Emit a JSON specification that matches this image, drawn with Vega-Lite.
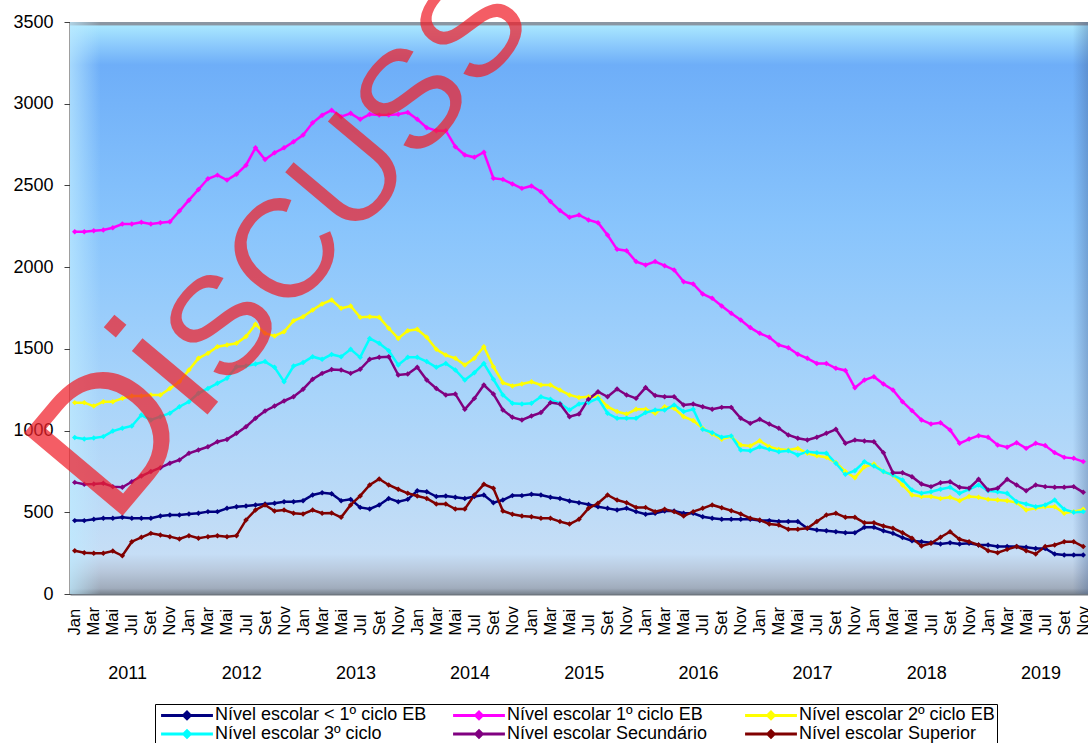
{
"$schema": "https://vega.github.io/schema/vega-lite/v6.json",
"width": 1018, "height": 572,
"autosize": {"type": "none"},
"padding": {"left": 70, "top": 22, "right": 0, "bottom": 149},
"background": "white",
"config": {"view": {"stroke": null}, "font": "Liberation Sans"},
"datasets": {
"niveis": [
{"s":"a","nivel":"Nível escolar < 1º ciclo EB"},
{"s":"b","nivel":"Nível escolar 1º ciclo EB"},
{"s":"c","nivel":"Nível escolar 2º ciclo EB"},
{"s":"d","nivel":"Nível escolar 3º ciclo"},
{"s":"e","nivel":"Nível escolar Secundário"},
{"s":"f","nivel":"Nível escolar Superior"}
],
"dados": [
{"m":"2011-01","s":"a","v":449},{"m":"2011-02","s":"a","v":449},{"m":"2011-03","s":"a","v":457},{"m":"2011-04","s":"a","v":463},{"m":"2011-05","s":"a","v":463},{"m":"2011-06","s":"a","v":469},{"m":"2011-07","s":"a","v":463},{"m":"2011-08","s":"a","v":463},{"m":"2011-09","s":"a","v":463},{"m":"2011-10","s":"a","v":477},{"m":"2011-11","s":"a","v":483},{"m":"2011-12","s":"a","v":483},
{"m":"2012-01","s":"a","v":490},{"m":"2012-02","s":"a","v":494},{"m":"2012-03","s":"a","v":504},{"m":"2012-04","s":"a","v":504},{"m":"2012-05","s":"a","v":524},{"m":"2012-06","s":"a","v":534},{"m":"2012-07","s":"a","v":538},{"m":"2012-08","s":"a","v":545},{"m":"2012-09","s":"a","v":551},{"m":"2012-10","s":"a","v":555},{"m":"2012-11","s":"a","v":565},{"m":"2012-12","s":"a","v":565},
{"m":"2013-01","s":"a","v":571},{"m":"2013-02","s":"a","v":606},{"m":"2013-03","s":"a","v":620},{"m":"2013-04","s":"a","v":614},{"m":"2013-05","s":"a","v":571},{"m":"2013-06","s":"a","v":579},{"m":"2013-07","s":"a","v":530},{"m":"2013-08","s":"a","v":520},{"m":"2013-09","s":"a","v":545},{"m":"2013-10","s":"a","v":585},{"m":"2013-11","s":"a","v":565},{"m":"2013-12","s":"a","v":579},
{"m":"2014-01","s":"a","v":632},{"m":"2014-02","s":"a","v":626},{"m":"2014-03","s":"a","v":596},{"m":"2014-04","s":"a","v":600},{"m":"2014-05","s":"a","v":592},{"m":"2014-06","s":"a","v":585},{"m":"2014-07","s":"a","v":596},{"m":"2014-08","s":"a","v":606},{"m":"2014-09","s":"a","v":559},{"m":"2014-10","s":"a","v":575},{"m":"2014-11","s":"a","v":602},{"m":"2014-12","s":"a","v":602},
{"m":"2015-01","s":"a","v":610},{"m":"2015-02","s":"a","v":606},{"m":"2015-03","s":"a","v":592},{"m":"2015-04","s":"a","v":585},{"m":"2015-05","s":"a","v":569},{"m":"2015-06","s":"a","v":559},{"m":"2015-07","s":"a","v":548},{"m":"2015-08","s":"a","v":534},{"m":"2015-09","s":"a","v":524},{"m":"2015-10","s":"a","v":514},{"m":"2015-11","s":"a","v":524},{"m":"2015-12","s":"a","v":504},
{"m":"2016-01","s":"a","v":488},{"m":"2016-02","s":"a","v":494},{"m":"2016-03","s":"a","v":508},{"m":"2016-04","s":"a","v":508},{"m":"2016-05","s":"a","v":494},{"m":"2016-06","s":"a","v":494},{"m":"2016-07","s":"a","v":473},{"m":"2016-08","s":"a","v":463},{"m":"2016-09","s":"a","v":457},{"m":"2016-10","s":"a","v":457},{"m":"2016-11","s":"a","v":457},{"m":"2016-12","s":"a","v":457},
{"m":"2017-01","s":"a","v":449},{"m":"2017-02","s":"a","v":449},{"m":"2017-03","s":"a","v":443},{"m":"2017-04","s":"a","v":443},{"m":"2017-05","s":"a","v":443},{"m":"2017-06","s":"a","v":402},{"m":"2017-07","s":"a","v":392},{"m":"2017-08","s":"a","v":387},{"m":"2017-09","s":"a","v":381},{"m":"2017-10","s":"a","v":375},{"m":"2017-11","s":"a","v":375},{"m":"2017-12","s":"a","v":408},
{"m":"2018-01","s":"a","v":408},{"m":"2018-02","s":"a","v":387},{"m":"2018-03","s":"a","v":371},{"m":"2018-04","s":"a","v":345},{"m":"2018-05","s":"a","v":326},{"m":"2018-06","s":"a","v":320},{"m":"2018-07","s":"a","v":314},{"m":"2018-08","s":"a","v":306},{"m":"2018-09","s":"a","v":314},{"m":"2018-10","s":"a","v":306},{"m":"2018-11","s":"a","v":310},{"m":"2018-12","s":"a","v":300},
{"m":"2019-01","s":"a","v":300},{"m":"2019-02","s":"a","v":290},{"m":"2019-03","s":"a","v":290},{"m":"2019-04","s":"a","v":290},{"m":"2019-05","s":"a","v":286},{"m":"2019-06","s":"a","v":279},{"m":"2019-07","s":"a","v":279},{"m":"2019-08","s":"a","v":245},{"m":"2019-09","s":"a","v":239},{"m":"2019-10","s":"a","v":239},{"m":"2019-11","s":"a","v":239},
{"m":"2011-01","s":"b","v":2217},{"m":"2011-02","s":"b","v":2217},{"m":"2011-03","s":"b","v":2223},{"m":"2011-04","s":"b","v":2227},{"m":"2011-05","s":"b","v":2241},{"m":"2011-06","s":"b","v":2264},{"m":"2011-07","s":"b","v":2264},{"m":"2011-08","s":"b","v":2274},{"m":"2011-09","s":"b","v":2264},{"m":"2011-10","s":"b","v":2272},{"m":"2011-11","s":"b","v":2278},{"m":"2011-12","s":"b","v":2343},
{"m":"2012-01","s":"b","v":2410},{"m":"2012-02","s":"b","v":2475},{"m":"2012-03","s":"b","v":2541},{"m":"2012-04","s":"b","v":2563},{"m":"2012-05","s":"b","v":2533},{"m":"2012-06","s":"b","v":2569},{"m":"2012-07","s":"b","v":2624},{"m":"2012-08","s":"b","v":2730},{"m":"2012-09","s":"b","v":2659},{"m":"2012-10","s":"b","v":2700},{"m":"2012-11","s":"b","v":2730},{"m":"2012-12","s":"b","v":2767},
{"m":"2013-01","s":"b","v":2808},{"m":"2013-02","s":"b","v":2883},{"m":"2013-03","s":"b","v":2930},{"m":"2013-04","s":"b","v":2960},{"m":"2013-05","s":"b","v":2921},{"m":"2013-06","s":"b","v":2941},{"m":"2013-07","s":"b","v":2905},{"m":"2013-08","s":"b","v":2935},{"m":"2013-09","s":"b","v":2931},{"m":"2013-10","s":"b","v":2931},{"m":"2013-11","s":"b","v":2935},{"m":"2013-12","s":"b","v":2947},
{"m":"2014-01","s":"b","v":2905},{"m":"2014-02","s":"b","v":2853},{"m":"2014-03","s":"b","v":2835},{"m":"2014-04","s":"b","v":2835},{"m":"2014-05","s":"b","v":2737},{"m":"2014-06","s":"b","v":2686},{"m":"2014-07","s":"b","v":2672},{"m":"2014-08","s":"b","v":2703},{"m":"2014-09","s":"b","v":2544},{"m":"2014-10","s":"b","v":2537},{"m":"2014-11","s":"b","v":2509},{"m":"2014-12","s":"b","v":2482},
{"m":"2015-01","s":"b","v":2497},{"m":"2015-02","s":"b","v":2462},{"m":"2015-03","s":"b","v":2401},{"m":"2015-04","s":"b","v":2346},{"m":"2015-05","s":"b","v":2305},{"m":"2015-06","s":"b","v":2319},{"m":"2015-07","s":"b","v":2289},{"m":"2015-08","s":"b","v":2272},{"m":"2015-09","s":"b","v":2197},{"m":"2015-10","s":"b","v":2109},{"m":"2015-11","s":"b","v":2101},{"m":"2015-12","s":"b","v":2034},
{"m":"2016-01","s":"b","v":2013},{"m":"2016-02","s":"b","v":2034},{"m":"2016-03","s":"b","v":2009},{"m":"2016-04","s":"b","v":1983},{"m":"2016-05","s":"b","v":1911},{"m":"2016-06","s":"b","v":1897},{"m":"2016-07","s":"b","v":1836},{"m":"2016-08","s":"b","v":1809},{"m":"2016-09","s":"b","v":1762},{"m":"2016-10","s":"b","v":1718},{"m":"2016-11","s":"b","v":1677},{"m":"2016-12","s":"b","v":1630},
{"m":"2017-01","s":"b","v":1595},{"m":"2017-02","s":"b","v":1571},{"m":"2017-03","s":"b","v":1524},{"m":"2017-04","s":"b","v":1507},{"m":"2017-05","s":"b","v":1467},{"m":"2017-06","s":"b","v":1442},{"m":"2017-07","s":"b","v":1411},{"m":"2017-08","s":"b","v":1411},{"m":"2017-09","s":"b","v":1381},{"m":"2017-10","s":"b","v":1368},{"m":"2017-11","s":"b","v":1262},{"m":"2017-12","s":"b","v":1309},
{"m":"2018-01","s":"b","v":1330},{"m":"2018-02","s":"b","v":1285},{"m":"2018-03","s":"b","v":1248},{"m":"2018-04","s":"b","v":1177},{"m":"2018-05","s":"b","v":1122},{"m":"2018-06","s":"b","v":1065},{"m":"2018-07","s":"b","v":1040},{"m":"2018-08","s":"b","v":1048},{"m":"2018-09","s":"b","v":1004},{"m":"2018-10","s":"b","v":922},{"m":"2018-11","s":"b","v":948},{"m":"2018-12","s":"b","v":969},
{"m":"2019-01","s":"b","v":959},{"m":"2019-02","s":"b","v":912},{"m":"2019-03","s":"b","v":898},{"m":"2019-04","s":"b","v":926},{"m":"2019-05","s":"b","v":891},{"m":"2019-06","s":"b","v":922},{"m":"2019-07","s":"b","v":908},{"m":"2019-08","s":"b","v":865},{"m":"2019-09","s":"b","v":836},{"m":"2019-10","s":"b","v":830},{"m":"2019-11","s":"b","v":810},
{"m":"2011-01","s":"c","v":1171},{"m":"2011-02","s":"c","v":1171},{"m":"2011-03","s":"c","v":1150},{"m":"2011-04","s":"c","v":1177},{"m":"2011-05","s":"c","v":1177},{"m":"2011-06","s":"c","v":1197},{"m":"2011-07","s":"c","v":1212},{"m":"2011-08","s":"c","v":1212},{"m":"2011-09","s":"c","v":1218},{"m":"2011-10","s":"c","v":1218},{"m":"2011-11","s":"c","v":1258},{"m":"2011-12","s":"c","v":1299},
{"m":"2012-01","s":"c","v":1371},{"m":"2012-02","s":"c","v":1442},{"m":"2012-03","s":"c","v":1473},{"m":"2012-04","s":"c","v":1513},{"m":"2012-05","s":"c","v":1524},{"m":"2012-06","s":"c","v":1534},{"m":"2012-07","s":"c","v":1575},{"m":"2012-08","s":"c","v":1650},{"m":"2012-09","s":"c","v":1595},{"m":"2012-10","s":"c","v":1579},{"m":"2012-11","s":"c","v":1605},{"m":"2012-12","s":"c","v":1672},
{"m":"2013-01","s":"c","v":1697},{"m":"2013-02","s":"c","v":1738},{"m":"2013-03","s":"c","v":1775},{"m":"2013-04","s":"c","v":1799},{"m":"2013-05","s":"c","v":1748},{"m":"2013-06","s":"c","v":1762},{"m":"2013-07","s":"c","v":1693},{"m":"2013-08","s":"c","v":1697},{"m":"2013-09","s":"c","v":1693},{"m":"2013-10","s":"c","v":1626},{"m":"2013-11","s":"c","v":1564},{"m":"2013-12","s":"c","v":1611},
{"m":"2014-01","s":"c","v":1620},{"m":"2014-02","s":"c","v":1571},{"m":"2014-03","s":"c","v":1497},{"m":"2014-04","s":"c","v":1462},{"m":"2014-05","s":"c","v":1442},{"m":"2014-06","s":"c","v":1401},{"m":"2014-07","s":"c","v":1442},{"m":"2014-08","s":"c","v":1513},{"m":"2014-09","s":"c","v":1391},{"m":"2014-10","s":"c","v":1293},{"m":"2014-11","s":"c","v":1273},{"m":"2014-12","s":"c","v":1285},
{"m":"2015-01","s":"c","v":1299},{"m":"2015-02","s":"c","v":1279},{"m":"2015-03","s":"c","v":1279},{"m":"2015-04","s":"c","v":1248},{"m":"2015-05","s":"c","v":1218},{"m":"2015-06","s":"c","v":1203},{"m":"2015-07","s":"c","v":1207},{"m":"2015-08","s":"c","v":1207},{"m":"2015-09","s":"c","v":1146},{"m":"2015-10","s":"c","v":1116},{"m":"2015-11","s":"c","v":1101},{"m":"2015-12","s":"c","v":1130},
{"m":"2016-01","s":"c","v":1130},{"m":"2016-02","s":"c","v":1106},{"m":"2016-03","s":"c","v":1146},{"m":"2016-04","s":"c","v":1136},{"m":"2016-05","s":"c","v":1085},{"m":"2016-06","s":"c","v":1061},{"m":"2016-07","s":"c","v":1014},{"m":"2016-08","s":"c","v":979},{"m":"2016-09","s":"c","v":947},{"m":"2016-10","s":"c","v":963},{"m":"2016-11","s":"c","v":912},{"m":"2016-12","s":"c","v":906},
{"m":"2017-01","s":"c","v":938},{"m":"2017-02","s":"c","v":901},{"m":"2017-03","s":"c","v":885},{"m":"2017-04","s":"c","v":881},{"m":"2017-05","s":"c","v":891},{"m":"2017-06","s":"c","v":861},{"m":"2017-07","s":"c","v":846},{"m":"2017-08","s":"c","v":836},{"m":"2017-09","s":"c","v":804},{"m":"2017-10","s":"c","v":750},{"m":"2017-11","s":"c","v":711},{"m":"2017-12","s":"c","v":779},
{"m":"2018-01","s":"c","v":795},{"m":"2018-02","s":"c","v":749},{"m":"2018-03","s":"c","v":728},{"m":"2018-04","s":"c","v":667},{"m":"2018-05","s":"c","v":606},{"m":"2018-06","s":"c","v":596},{"m":"2018-07","s":"c","v":596},{"m":"2018-08","s":"c","v":585},{"m":"2018-09","s":"c","v":592},{"m":"2018-10","s":"c","v":571},{"m":"2018-11","s":"c","v":596},{"m":"2018-12","s":"c","v":592},
{"m":"2019-01","s":"c","v":579},{"m":"2019-02","s":"c","v":575},{"m":"2019-03","s":"c","v":571},{"m":"2019-04","s":"c","v":559},{"m":"2019-05","s":"c","v":514},{"m":"2019-06","s":"c","v":524},{"m":"2019-07","s":"c","v":534},{"m":"2019-08","s":"c","v":534},{"m":"2019-09","s":"c","v":494},{"m":"2019-10","s":"c","v":504},{"m":"2019-11","s":"c","v":518},
{"m":"2011-01","s":"d","v":957},{"m":"2011-02","s":"d","v":948},{"m":"2011-03","s":"d","v":955},{"m":"2011-04","s":"d","v":963},{"m":"2011-05","s":"d","v":997},{"m":"2011-06","s":"d","v":1014},{"m":"2011-07","s":"d","v":1028},{"m":"2011-08","s":"d","v":1095},{"m":"2011-09","s":"d","v":1065},{"m":"2011-10","s":"d","v":1085},{"m":"2011-11","s":"d","v":1106},{"m":"2011-12","s":"d","v":1146},
{"m":"2012-01","s":"d","v":1177},{"m":"2012-02","s":"d","v":1228},{"m":"2012-03","s":"d","v":1258},{"m":"2012-04","s":"d","v":1289},{"m":"2012-05","s":"d","v":1320},{"m":"2012-06","s":"d","v":1391},{"m":"2012-07","s":"d","v":1395},{"m":"2012-08","s":"d","v":1407},{"m":"2012-09","s":"d","v":1422},{"m":"2012-10","s":"d","v":1387},{"m":"2012-11","s":"d","v":1299},{"m":"2012-12","s":"d","v":1395},
{"m":"2013-01","s":"d","v":1416},{"m":"2013-02","s":"d","v":1452},{"m":"2013-03","s":"d","v":1436},{"m":"2013-04","s":"d","v":1466},{"m":"2013-05","s":"d","v":1452},{"m":"2013-06","s":"d","v":1497},{"m":"2013-07","s":"d","v":1448},{"m":"2013-08","s":"d","v":1564},{"m":"2013-09","s":"d","v":1534},{"m":"2013-10","s":"d","v":1489},{"m":"2013-11","s":"d","v":1401},{"m":"2013-12","s":"d","v":1448},
{"m":"2014-01","s":"d","v":1448},{"m":"2014-02","s":"d","v":1422},{"m":"2014-03","s":"d","v":1387},{"m":"2014-04","s":"d","v":1411},{"m":"2014-05","s":"d","v":1371},{"m":"2014-06","s":"d","v":1309},{"m":"2014-07","s":"d","v":1354},{"m":"2014-08","s":"d","v":1411},{"m":"2014-09","s":"d","v":1314},{"m":"2014-10","s":"d","v":1218},{"m":"2014-11","s":"d","v":1167},{"m":"2014-12","s":"d","v":1163},
{"m":"2015-01","s":"d","v":1167},{"m":"2015-02","s":"d","v":1207},{"m":"2015-03","s":"d","v":1191},{"m":"2015-04","s":"d","v":1167},{"m":"2015-05","s":"d","v":1126},{"m":"2015-06","s":"d","v":1163},{"m":"2015-07","s":"d","v":1172},{"m":"2015-08","s":"d","v":1197},{"m":"2015-09","s":"d","v":1106},{"m":"2015-10","s":"d","v":1075},{"m":"2015-11","s":"d","v":1075},{"m":"2015-12","s":"d","v":1075},
{"m":"2016-01","s":"d","v":1110},{"m":"2016-02","s":"d","v":1126},{"m":"2016-03","s":"d","v":1126},{"m":"2016-04","s":"d","v":1157},{"m":"2016-05","s":"d","v":1116},{"m":"2016-06","s":"d","v":1130},{"m":"2016-07","s":"d","v":1008},{"m":"2016-08","s":"d","v":987},{"m":"2016-09","s":"d","v":959},{"m":"2016-10","s":"d","v":967},{"m":"2016-11","s":"d","v":881},{"m":"2016-12","s":"d","v":877},
{"m":"2017-01","s":"d","v":901},{"m":"2017-02","s":"d","v":885},{"m":"2017-03","s":"d","v":871},{"m":"2017-04","s":"d","v":877},{"m":"2017-05","s":"d","v":851},{"m":"2017-06","s":"d","v":871},{"m":"2017-07","s":"d","v":865},{"m":"2017-08","s":"d","v":861},{"m":"2017-09","s":"d","v":800},{"m":"2017-10","s":"d","v":733},{"m":"2017-11","s":"d","v":754},{"m":"2017-12","s":"d","v":810},
{"m":"2018-01","s":"d","v":783},{"m":"2018-02","s":"d","v":749},{"m":"2018-03","s":"d","v":728},{"m":"2018-04","s":"d","v":698},{"m":"2018-05","s":"d","v":636},{"m":"2018-06","s":"d","v":616},{"m":"2018-07","s":"d","v":626},{"m":"2018-08","s":"d","v":641},{"m":"2018-09","s":"d","v":653},{"m":"2018-10","s":"d","v":616},{"m":"2018-11","s":"d","v":641},{"m":"2018-12","s":"d","v":667},
{"m":"2019-01","s":"d","v":632},{"m":"2019-02","s":"d","v":626},{"m":"2019-03","s":"d","v":616},{"m":"2019-04","s":"d","v":565},{"m":"2019-05","s":"d","v":551},{"m":"2019-06","s":"d","v":534},{"m":"2019-07","s":"d","v":545},{"m":"2019-08","s":"d","v":575},{"m":"2019-09","s":"d","v":518},{"m":"2019-10","s":"d","v":500},{"m":"2019-11","s":"d","v":504},
{"m":"2011-01","s":"e","v":683},{"m":"2011-02","s":"e","v":671},{"m":"2011-03","s":"e","v":673},{"m":"2011-04","s":"e","v":677},{"m":"2011-05","s":"e","v":657},{"m":"2011-06","s":"e","v":653},{"m":"2011-07","s":"e","v":687},{"m":"2011-08","s":"e","v":722},{"m":"2011-09","s":"e","v":749},{"m":"2011-10","s":"e","v":773},{"m":"2011-11","s":"e","v":800},{"m":"2011-12","s":"e","v":820},
{"m":"2012-01","s":"e","v":861},{"m":"2012-02","s":"e","v":881},{"m":"2012-03","s":"e","v":901},{"m":"2012-04","s":"e","v":932},{"m":"2012-05","s":"e","v":946},{"m":"2012-06","s":"e","v":983},{"m":"2012-07","s":"e","v":1024},{"m":"2012-08","s":"e","v":1075},{"m":"2012-09","s":"e","v":1120},{"m":"2012-10","s":"e","v":1150},{"m":"2012-11","s":"e","v":1181},{"m":"2012-12","s":"e","v":1207},
{"m":"2013-01","s":"e","v":1253},{"m":"2013-02","s":"e","v":1314},{"m":"2013-03","s":"e","v":1350},{"m":"2013-04","s":"e","v":1373},{"m":"2013-05","s":"e","v":1371},{"m":"2013-06","s":"e","v":1350},{"m":"2013-07","s":"e","v":1375},{"m":"2013-08","s":"e","v":1436},{"m":"2013-09","s":"e","v":1448},{"m":"2013-10","s":"e","v":1452},{"m":"2013-11","s":"e","v":1340},{"m":"2013-12","s":"e","v":1346},
{"m":"2014-01","s":"e","v":1387},{"m":"2014-02","s":"e","v":1309},{"m":"2014-03","s":"e","v":1258},{"m":"2014-04","s":"e","v":1218},{"m":"2014-05","s":"e","v":1224},{"m":"2014-06","s":"e","v":1130},{"m":"2014-07","s":"e","v":1197},{"m":"2014-08","s":"e","v":1279},{"m":"2014-09","s":"e","v":1224},{"m":"2014-10","s":"e","v":1126},{"m":"2014-11","s":"e","v":1081},{"m":"2014-12","s":"e","v":1065},
{"m":"2015-01","s":"e","v":1089},{"m":"2015-02","s":"e","v":1110},{"m":"2015-03","s":"e","v":1171},{"m":"2015-04","s":"e","v":1163},{"m":"2015-05","s":"e","v":1085},{"m":"2015-06","s":"e","v":1101},{"m":"2015-07","s":"e","v":1192},{"m":"2015-08","s":"e","v":1238},{"m":"2015-09","s":"e","v":1207},{"m":"2015-10","s":"e","v":1254},{"m":"2015-11","s":"e","v":1218},{"m":"2015-12","s":"e","v":1197},
{"m":"2016-01","s":"e","v":1263},{"m":"2016-02","s":"e","v":1214},{"m":"2016-03","s":"e","v":1207},{"m":"2016-04","s":"e","v":1207},{"m":"2016-05","s":"e","v":1157},{"m":"2016-06","s":"e","v":1163},{"m":"2016-07","s":"e","v":1146},{"m":"2016-08","s":"e","v":1130},{"m":"2016-09","s":"e","v":1142},{"m":"2016-10","s":"e","v":1142},{"m":"2016-11","s":"e","v":1075},{"m":"2016-12","s":"e","v":1044},
{"m":"2017-01","s":"e","v":1069},{"m":"2017-02","s":"e","v":1040},{"m":"2017-03","s":"e","v":1014},{"m":"2017-04","s":"e","v":973},{"m":"2017-05","s":"e","v":953},{"m":"2017-06","s":"e","v":942},{"m":"2017-07","s":"e","v":959},{"m":"2017-08","s":"e","v":983},{"m":"2017-09","s":"e","v":1008},{"m":"2017-10","s":"e","v":922},{"m":"2017-11","s":"e","v":942},{"m":"2017-12","s":"e","v":936},
{"m":"2018-01","s":"e","v":932},{"m":"2018-02","s":"e","v":865},{"m":"2018-03","s":"e","v":742},{"m":"2018-04","s":"e","v":742},{"m":"2018-05","s":"e","v":718},{"m":"2018-06","s":"e","v":673},{"m":"2018-07","s":"e","v":657},{"m":"2018-08","s":"e","v":681},{"m":"2018-09","s":"e","v":687},{"m":"2018-10","s":"e","v":653},{"m":"2018-11","s":"e","v":647},{"m":"2018-12","s":"e","v":702},
{"m":"2019-01","s":"e","v":636},{"m":"2019-02","s":"e","v":647},{"m":"2019-03","s":"e","v":702},{"m":"2019-04","s":"e","v":667},{"m":"2019-05","s":"e","v":632},{"m":"2019-06","s":"e","v":667},{"m":"2019-07","s":"e","v":657},{"m":"2019-08","s":"e","v":653},{"m":"2019-09","s":"e","v":653},{"m":"2019-10","s":"e","v":657},{"m":"2019-11","s":"e","v":622},
{"m":"2011-01","s":"f","v":265},{"m":"2011-02","s":"f","v":253},{"m":"2011-03","s":"f","v":249},{"m":"2011-04","s":"f","v":249},{"m":"2011-05","s":"f","v":263},{"m":"2011-06","s":"f","v":234},{"m":"2011-07","s":"f","v":320},{"m":"2011-08","s":"f","v":347},{"m":"2011-09","s":"f","v":371},{"m":"2011-10","s":"f","v":361},{"m":"2011-11","s":"f","v":351},{"m":"2011-12","s":"f","v":337},
{"m":"2012-01","s":"f","v":357},{"m":"2012-02","s":"f","v":341},{"m":"2012-03","s":"f","v":351},{"m":"2012-04","s":"f","v":357},{"m":"2012-05","s":"f","v":351},{"m":"2012-06","s":"f","v":357},{"m":"2012-07","s":"f","v":453},{"m":"2012-08","s":"f","v":514},{"m":"2012-09","s":"f","v":545},{"m":"2012-10","s":"f","v":508},{"m":"2012-11","s":"f","v":514},{"m":"2012-12","s":"f","v":494},
{"m":"2013-01","s":"f","v":490},{"m":"2013-02","s":"f","v":514},{"m":"2013-03","s":"f","v":494},{"m":"2013-04","s":"f","v":496},{"m":"2013-05","s":"f","v":469},{"m":"2013-06","s":"f","v":545},{"m":"2013-07","s":"f","v":600},{"m":"2013-08","s":"f","v":667},{"m":"2013-09","s":"f","v":704},{"m":"2013-10","s":"f","v":667},{"m":"2013-11","s":"f","v":641},{"m":"2013-12","s":"f","v":616},
{"m":"2014-01","s":"f","v":600},{"m":"2014-02","s":"f","v":585},{"m":"2014-03","s":"f","v":551},{"m":"2014-04","s":"f","v":551},{"m":"2014-05","s":"f","v":520},{"m":"2014-06","s":"f","v":520},{"m":"2014-07","s":"f","v":606},{"m":"2014-08","s":"f","v":671},{"m":"2014-09","s":"f","v":647},{"m":"2014-10","s":"f","v":508},{"m":"2014-11","s":"f","v":488},{"m":"2014-12","s":"f","v":477},
{"m":"2015-01","s":"f","v":473},{"m":"2015-02","s":"f","v":463},{"m":"2015-03","s":"f","v":463},{"m":"2015-04","s":"f","v":443},{"m":"2015-05","s":"f","v":428},{"m":"2015-06","s":"f","v":457},{"m":"2015-07","s":"f","v":524},{"m":"2015-08","s":"f","v":555},{"m":"2015-09","s":"f","v":606},{"m":"2015-10","s":"f","v":575},{"m":"2015-11","s":"f","v":559},{"m":"2015-12","s":"f","v":530},
{"m":"2016-01","s":"f","v":530},{"m":"2016-02","s":"f","v":504},{"m":"2016-03","s":"f","v":518},{"m":"2016-04","s":"f","v":504},{"m":"2016-05","s":"f","v":477},{"m":"2016-06","s":"f","v":504},{"m":"2016-07","s":"f","v":524},{"m":"2016-08","s":"f","v":545},{"m":"2016-09","s":"f","v":528},{"m":"2016-10","s":"f","v":510},{"m":"2016-11","s":"f","v":490},{"m":"2016-12","s":"f","v":463},
{"m":"2017-01","s":"f","v":453},{"m":"2017-02","s":"f","v":428},{"m":"2017-03","s":"f","v":422},{"m":"2017-04","s":"f","v":396},{"m":"2017-05","s":"f","v":396},{"m":"2017-06","s":"f","v":402},{"m":"2017-07","s":"f","v":443},{"m":"2017-08","s":"f","v":483},{"m":"2017-09","s":"f","v":494},{"m":"2017-10","s":"f","v":469},{"m":"2017-11","s":"f","v":469},{"m":"2017-12","s":"f","v":436},
{"m":"2018-01","s":"f","v":436},{"m":"2018-02","s":"f","v":416},{"m":"2018-03","s":"f","v":402},{"m":"2018-04","s":"f","v":375},{"m":"2018-05","s":"f","v":341},{"m":"2018-06","s":"f","v":294},{"m":"2018-07","s":"f","v":310},{"m":"2018-08","s":"f","v":347},{"m":"2018-09","s":"f","v":381},{"m":"2018-10","s":"f","v":335},{"m":"2018-11","s":"f","v":320},{"m":"2018-12","s":"f","v":300},
{"m":"2019-01","s":"f","v":265},{"m":"2019-02","s":"f","v":253},{"m":"2019-03","s":"f","v":273},{"m":"2019-04","s":"f","v":290},{"m":"2019-05","s":"f","v":265},{"m":"2019-06","s":"f","v":245},{"m":"2019-07","s":"f","v":290},{"m":"2019-08","s":"f","v":300},{"m":"2019-09","s":"f","v":320},{"m":"2019-10","s":"f","v":320},{"m":"2019-11","s":"f","v":290}
]
},
"resolve": {"axis": {"x": "independent"}},
"layer": [
{
"data": {"values": [{}]},
"mark": {"type": "rect", "fill": {"gradient": "linear", "x1": 0, "y1": 0, "x2": 0, "y2": 1, "stops": [
{"offset": 0, "color": "#8a96a2"}, {"offset": 0.005, "color": "#8a96a2"}, {"offset": 0.007, "color": "#a8e6ff"},
{"offset": 0.04, "color": "#8ccafc"}, {"offset": 0.075, "color": "#6eaef8"}, {"offset": 0.35, "color": "#88c4fc"},
{"offset": 0.65, "color": "#a8d4fa"}, {"offset": 0.93, "color": "#c6def6"}, {"offset": 0.96, "color": "#b8c8dc"},
{"offset": 0.99, "color": "#a0acbc"}, {"offset": 1, "color": "#7a8490"}]}}
},
{
"data": {"values": [{}]},
"mark": {"type": "rect", "fill": {"gradient": "linear", "x1": 0, "y1": 0, "x2": 1, "y2": 0, "stops": [
{"offset": 0, "color": "rgba(190,235,255,0.7)"}, {"offset": 0.03, "color": "rgba(190,235,255,0)"},
{"offset": 0.985, "color": "rgba(60,90,140,0)"}, {"offset": 1, "color": "rgba(60,90,140,0.35)"}]}}
},
{
"data": {"name": "dados"},
"transform": [{"lookup": "s", "from": {"data": {"name": "niveis"}, "key": "s", "fields": ["nivel"]}}],
"mark": {"type": "line", "strokeWidth": 2.5},
"encoding": {
"x": {"field": "m", "type": "ordinal", "scale": {"type": "point", "padding": 0.5},
"axis": {"orient": "bottom", "title": null, "grid": false, "ticks": false, "domain": true, "domainColor": "#6f7780", "domainWidth": 2,
"values": ["2011-01","2011-03","2011-05","2011-07","2011-09","2011-11","2012-01","2012-03","2012-05","2012-07","2012-09","2012-11","2013-01","2013-03","2013-05","2013-07","2013-09","2013-11","2014-01","2014-03","2014-05","2014-07","2014-09","2014-11","2015-01","2015-03","2015-05","2015-07","2015-09","2015-11","2016-01","2016-03","2016-05","2016-07","2016-09","2016-11","2017-01","2017-03","2017-05","2017-07","2017-09","2017-11","2018-01","2018-03","2018-05","2018-07","2018-09","2018-11","2019-01","2019-03","2019-05","2019-07","2019-09","2019-11"],
"labelExpr": "['Jan','Fev','Mar','Abr','Mai','Jun','Jul','Ago','Set','Out','Nov','Dez'][toNumber(slice(datum.value,5,7))-1]",
"labelAngle": 270, "labelAlign": "left", "labelBaseline": "middle", "labelPadding": 41,
"labelFont": "Liberation Sans", "labelFontSize": 16.5, "labelColor": "#000000", "labelOverlap": false, "labelBound": false, "labelFlush": false}},
"y": {"field": "v", "type": "quantitative", "scale": {"domain": [0, 3500], "nice": false},
"axis": {"title": null, "grid": false, "format": "d", "values": [0,500,1000,1500,2000,2500,3000,3500], "domainColor": "#404040", "domainWidth": 2, "tickColor": "#404040", "tickSize": 6, "labelPadding": 11, "labelFont": "Liberation Sans", "labelFontSize": 18, "labelColor": "#000000"}},
"color": {"field": "nivel", "type": "nominal",
"scale": {"domain": ["Nível escolar < 1º ciclo EB","Nível escolar 1º ciclo EB","Nível escolar 2º ciclo EB","Nível escolar 3º ciclo","Nível escolar Secundário","Nível escolar Superior"], "range": ["#000080","#ff00ff","#ffff00","#00ffff","#800080","#800000"]},
"legend": {"orient": "none", "legendX": 85, "legendY": 682, "title": null, "columns": 3, "direction": "horizontal", "fillColor": "#ffffff", "strokeColor": "#000000", "padding": 2,
"symbolType": "M-8,0H8M-1,0L0,-1L1,0L0,1Z", "symbolSize": 42, "symbolStrokeWidth": 3, "symbolOffset": 21, "labelOffset": 19,
"labelFont": "Liberation Sans", "labelFontSize": 18, "labelColor": "#000000", "labelLimit": 400, "columnPadding": 20, "rowPadding": -4, "gridAlign": "all",
"encode": {"symbols": {"update": {"fill": {"scale": "color", "field": "value"}, "stroke": {"scale": "color", "field": "value"}, "strokeWidth": {"value": 3}, "opacity": {"value": 1}}}}}}
}
},
{
"data": {"name": "dados"},
"transform": [{"lookup": "s", "from": {"data": {"name": "niveis"}, "key": "s", "fields": ["nivel"]}}],
"mark": {"type": "point", "shape": "diamond", "filled": true, "size": 30, "opacity": 1},
"encoding": {
"x": {"field": "m", "type": "ordinal", "scale": {"type": "point", "padding": 0.5},
"axis": {"orient": "bottom", "title": null, "grid": false, "ticks": false, "domain": false,
"values": ["2011-06","2012-06","2013-06","2014-06","2015-06","2016-06","2017-06","2018-06","2019-06"],
"labelExpr": "slice(datum.value,0,4)", "labelAngle": 0, "labelAlign": "center", "labelBaseline": "alphabetic", "labelPadding": 84, "labelOffset": 4.76,
"labelFont": "Liberation Sans", "labelFontSize": 18, "labelColor": "#000000", "labelOverlap": false, "labelBound": false, "labelFlush": false}},
"y": {"field": "v", "type": "quantitative", "scale": {"domain": [0, 3500], "nice": false},
"axis": {"title": null, "grid": false, "format": "d", "values": [0,500,1000,1500,2000,2500,3000,3500], "domainColor": "#404040", "domainWidth": 2, "tickColor": "#404040", "tickSize": 6, "labelPadding": 11, "labelFont": "Liberation Sans", "labelFontSize": 18, "labelColor": "#000000"}},
"color": {"field": "nivel", "type": "nominal",
"scale": {"domain": ["Nível escolar < 1º ciclo EB","Nível escolar 1º ciclo EB","Nível escolar 2º ciclo EB","Nível escolar 3º ciclo","Nível escolar Secundário","Nível escolar Superior"], "range": ["#000080","#ff00ff","#ffff00","#00ffff","#800080","#800000"]},
"legend": {"orient": "none", "legendX": 85, "legendY": 682, "title": null, "columns": 3, "direction": "horizontal", "fillColor": "#ffffff", "strokeColor": "#000000", "padding": 2,
"symbolType": "M-8,0H8M-1,0L0,-1L1,0L0,1Z", "symbolSize": 42, "symbolStrokeWidth": 3, "symbolOffset": 21, "labelOffset": 19,
"labelFont": "Liberation Sans", "labelFontSize": 18, "labelColor": "#000000", "labelLimit": 400, "columnPadding": 20, "rowPadding": -4, "gridAlign": "all",
"encode": {"symbols": {"update": {"fill": {"scale": "color", "field": "value"}, "stroke": {"scale": "color", "field": "value"}, "strokeWidth": {"value": 3}, "opacity": {"value": 1}}}}}}
}
},
{
"data": {"values": [{}]},
"mark": {"type": "text", "text": "Di", "font": "Liberation Sans", "fontSize": 187, "angle": 310, "align": "left", "baseline": "alphabetic", "fill": "#f0202a", "opacity": 0.72},
"encoding": {
"x": {"datum": "2011-05", "type": "ordinal", "axis": null},
"y": {"datum": 407, "type": "quantitative"}
}
},
{
"data": {"values": [{}]},
"mark": {"type": "text", "text": "SCUSS", "font": "Liberation Sans", "fontSize": 140, "angle": 310, "align": "left", "baseline": "alphabetic", "fill": "#f0202a", "opacity": 0.72},
"encoding": {
"x": {"datum": "2012-05", "type": "ordinal", "axis": null},
"y": {"datum": 1239, "type": "quantitative"}
}
}
]
}
